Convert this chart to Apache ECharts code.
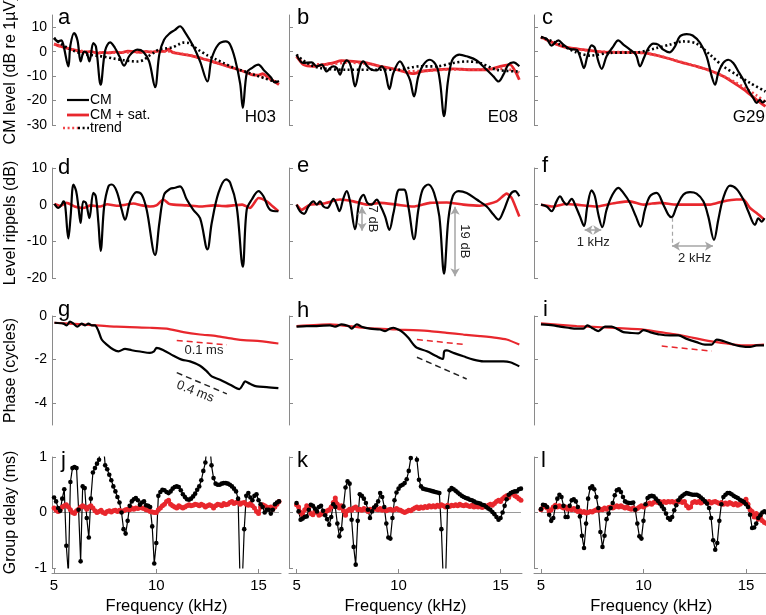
<!DOCTYPE html>
<html><head><meta charset="utf-8">
<script src="https://cdn.jsdelivr.net/npm/echarts@6/dist/echarts.min.js"></script>
<style>html,body{margin:0;padding:0;background:#fff}#c{width:766px;height:615px}</style>
</head><body><div id="c"></div>
<script>
// ---------- Row 1: CM level (dB re 1uV) ----------
const aCM = [[5.0,5.6],[5.2,4.2],[5.35,4.6],[5.45,3.0],[5.7,-6.0],[5.8,2.6],[5.98,7.6],[6.15,4.5],[6.3,-4.0],[6.47,0.0],[6.6,-0.5],[6.73,-4.0],[6.92,3.5],[7.05,2.0],[7.28,-13.5],[7.5,0.5],[7.74,3.8],[7.98,1.5],[8.2,-2],[8.42,-5.7],[8.7,-1.5],[9.07,0.8],[9.36,0.0],[9.65,-4],[9.94,-14.5],[10.15,-1.0],[10.38,4.9],[10.67,7.6],[10.9,8.8],[11.16,10.4],[11.4,8.0],[11.81,2.2],[12.14,-4],[12.5,-12.2],[12.7,-3],[13.03,2.9],[13.4,4.2],[13.6,3.0],[13.85,-3],[14.1,-13],[14.23,-23],[14.43,-8.5],[14.67,-6.7],[14.99,-5.3],[15.25,-7.5],[15.6,-10.5],[15.8,-12.6],[16.0,-12.0]];
const aSat = [[5.0,3.2],[5.3,2.2],[5.6,1.5],[5.9,0.8],[6.2,0.3],[6.5,-0.2],[6.8,0.1],[7.1,-0.6],[7.4,-0.3],[7.7,-0.5],[8.0,-0.1],[8.3,-0.4],[8.6,0.2],[8.9,0.0],[9.2,-0.3],[9.5,0.1],[9.8,-0.2],[10.1,0.2],[10.4,0.1],[10.6,1.0],[10.8,-0.3],[11.1,-0.8],[11.4,-1.2],[11.7,-1.6],[12.0,-2.3],[12.3,-3.0],[12.6,-3.6],[12.9,-4.5],[13.2,-5.2],[13.5,-6.0],[13.8,-6.8],[14.1,-7.6],[14.4,-8.5],[14.7,-9.5],[15.0,-9.6],[15.2,-9.0],[15.5,-10.8],[15.8,-12.3],[16.0,-13.5]];
const aTrend = [[5.0,5.6],[5.3,3.4],[5.65,1.6],[6.0,0.2],[6.5,-1.0],[7.0,-1.6],[7.4,-2.0],[7.9,-2.8],[8.4,-3.5],[8.8,-3.9],[9.1,-4.0],[9.4,-3.3],[9.6,-2.0],[9.85,-0.6],[10.1,0.8],[10.5,1.4],[10.8,1.8],[11.1,3.0],[11.3,3.7],[11.6,3.5],[11.85,2.0],[12.1,0.5],[12.5,-1.5],[12.9,-3.1],[13.3,-4.7],[13.7,-6.3],[14.1,-7.5],[14.5,-8.6],[14.9,-9.8],[15.3,-10.9],[15.7,-12.0],[16.0,-12.7]];
const aSatTrend = [[5.0,3.0],[5.5,1.8],[6.0,0.8],[6.5,0.1],[7.0,-0.3],[8.0,-0.4],[9.0,-0.2],[10.0,0.0],[10.5,0.2],[11.0,-0.5],[11.5,-1.3],[12.0,-2.2],[12.5,-3.4],[13.0,-4.7],[13.5,-6.0],[14.0,-7.3],[14.5,-8.6],[15.0,-9.8],[15.5,-11.2],[16.0,-12.8]];

const bCM = [[5.0,-1.2],[5.33,-4.6],[5.74,-4.4],[5.99,-6.0],[6.23,-5.3],[6.48,-8.1],[6.64,-6.7],[6.81,-6.0],[6.97,-6.7],[7.13,-9.4],[7.3,-5.3],[7.46,-3.6],[7.66,-6.0],[7.87,-14.2],[8.11,-6.0],[8.28,-4.0],[8.47,-6.0],[8.68,-7.4],[8.93,-7.7],[9.17,-6.0],[9.34,-8.1],[9.55,-15.3],[9.75,-8.7],[10.07,-4.0],[10.32,-7.4],[10.56,-11.5],[10.76,-18.3],[10.97,-10.1],[11.22,-5.3],[11.54,-3.3],[11.87,-6.0],[12.04,-12.8],[12.23,-26.4],[12.41,-12.8],[12.56,-5.3],[12.69,-2.6],[12.98,-1.2],[13.34,-1.9],[13.83,-3.6],[14.32,-7.4],[14.65,-10.1],[14.9,-12.2],[15.14,-9.4],[15.38,-5.3],[15.63,-4.4],[15.92,-6.0]];
const bSat = [[5.0,-1.9],[5.33,-5.3],[5.83,-6.0],[6.32,-5.3],[6.8,-4.6],[7.2,-3.7],[7.79,-4.0],[8.44,-4.6],[9.09,-6.0],[9.5,-6.6],[9.91,-7.4],[10.3,-8.3],[10.72,-9.0],[11.21,-8.0],[11.87,-7.4],[12.69,-7.0],[13.5,-7.4],[14.32,-7.4],[14.98,-6.0],[15.47,-5.3],[15.72,-8.0],[15.92,-11.5]];
const bTrend = [[5.0,-1.2],[5.5,-4.6],[6.15,-6.7],[7.46,-7.4],[8.77,-7.4],[9.91,-7.4],[11.05,-6.0],[11.87,-6.0],[12.69,-4.6],[13.34,-4.0],[13.99,-4.6],[14.81,-7.4],[15.92,-8.1]];
const bSatTrend = [[5.0,-2.0],[5.5,-5.0],[6.5,-5.2],[7.5,-4.5],[8.5,-5.0],[9.5,-6.8],[10.5,-8.0],[11.5,-7.8],[12.5,-7.3],[13.5,-7.3],[14.5,-7.2],[15.2,-7.0],[15.92,-8.5]];

const cCM = [[5.0,6.0],[5.28,5.2],[5.52,2.5],[5.85,4.6],[6.09,2.9],[6.41,1.1],[6.74,0.8],[6.9,-1.9],[7.1,-6.7],[7.26,-1.9],[7.47,2.6],[7.63,1.5],[7.8,-4.0],[7.96,-7.0],[8.2,-1.9],[8.53,2.2],[8.77,4.6],[9.02,2.9],[9.34,0.8],[9.63,-1.2],[9.83,-6.0],[10.02,-2.6],[10.24,1.5],[10.48,3.3],[10.72,2.9],[10.97,0.8],[11.26,-0.3],[11.54,2.2],[11.78,6.3],[12.11,7.2],[12.4,6.6],[12.76,3.6],[13.08,-1.9],[13.33,-10.1],[13.49,-13.5],[13.65,-8.7],[13.89,-4.6],[14.14,-3.3],[14.38,-4.6],[14.63,-8.1],[14.87,-11.5],[15.11,-15.6],[15.36,-19.0],[15.52,-21.0],[15.68,-19.7],[15.81,-20.8],[15.95,-20.0]];
const cSat = [[5.0,6.0],[5.44,4.2],[5.93,2.5],[6.41,1.5],[7.07,0.8],[7.72,0.1],[8.37,-0.3],[9.18,-0.3],[9.99,-0.5],[10.48,-1.2],[11.13,-2.6],[11.94,-4.6],[12.59,-6.0],[13.24,-7.7],[13.89,-10.1],[14.54,-13.5],[15.03,-16.3],[15.52,-19.7],[15.95,-22.4]];
const cTrend = [[5.0,6.0],[5.93,2.9],[6.74,-0.3],[7.39,-1.6],[8.37,-0.5],[9.67,-0.3],[10.64,1.5],[11.29,2.9],[11.94,4.2],[12.59,3.3],[13.24,-1.2],[13.89,-6.0],[14.54,-9.4],[15.2,-12.8],[15.95,-16.3]];
const cSatTrend = [[5.0,5.8],[5.5,4.0],[6.0,2.4],[6.5,1.3],[7.0,0.7],[8.0,0.0],[9.0,-0.2],[10.0,-0.6],[10.5,-1.2],[11.0,-2.2],[11.5,-3.4],[12.0,-4.6],[12.5,-5.8],[13.0,-7.1],[13.5,-8.6],[14.0,-10.4],[14.5,-12.6],[15.0,-15.0],[15.5,-17.8],[15.95,-20.5]];

// ---------- Row 2: Level ripples (dB) ----------
const dCM = [[5.02,0.2],[5.21,-0.9],[5.37,0],[5.46,0.9],[5.54,0],[5.7,-9.2],[5.81,-3.2],[5.95,5.5],[6.08,3.7],[6.19,-0.5],[6.3,-5.0],[6.43,0.9],[6.56,0.5],[6.73,-3.7],[6.92,3.2],[7.04,2.3],[7.17,-5.0],[7.28,-12.6],[7.45,-0.5],[7.66,5.0],[7.82,5.5],[8.06,3.7],[8.31,-1.4],[8.47,-4.1],[8.72,0.9],[9.04,3.4],[9.29,2.7],[9.53,-1.4],[9.94,-13.7],[10.15,-5.0],[10.38,2.7],[10.67,4.3],[10.92,4.6],[11.16,5.0],[11.49,1.4],[11.81,-1.4],[12.14,-3.7],[12.5,-12.2],[12.71,-5.0],[13.04,3.2],[13.41,6.9],[13.61,6.0],[13.93,-0.5],[14.23,-16.9],[14.42,-1.4],[14.67,1.4],[15.0,3.7],[15.24,2.3],[15.57,-1.4],[15.97,-1.8]];
const dSat = [[5.02,0.2],[5.3,-0.3],[5.62,0.5],[6.0,-0.5],[6.43,-0.9],[6.8,-0.2],[7.25,-0.5],[7.6,0.1],[8.06,-0.3],[8.5,0.0],[8.88,0.3],[9.3,-0.2],[9.69,-0.5],[10.0,-0.2],[10.35,1.4],[10.6,0.3],[10.84,0.0],[11.5,-0.2],[12.14,-0.5],[12.8,-0.2],[13.4,-0.4],[13.77,-0.2],[14.2,0.0],[14.58,-0.9],[15.0,1.8],[15.4,0.9],[15.7,-0.5],[15.97,-1.8]];
const eCM = [[5.0,0],[5.17,-1.8],[5.37,-2.5],[5.58,-0.5],[5.83,0.9],[5.99,0],[6.15,0.9],[6.32,-0.5],[6.51,-0.9],[6.81,1.6],[6.97,0],[7.1,-1.8],[7.3,1.8],[7.46,3.7],[7.62,0.9],[7.87,-6.7],[8.08,0.9],[8.28,2.7],[8.47,0.5],[8.68,0],[8.93,1.4],[9.09,0],[9.34,-3.2],[9.55,-6.9],[9.75,-2.3],[10.04,4.1],[10.27,4.1],[10.48,-0.5],[10.76,-9.4],[10.97,-1.4],[11.18,4.1],[11.46,5.5],[11.74,3.2],[12.0,-3.2],[12.23,-18.8],[12.44,-4.1],[12.66,2.3],[12.94,3.7],[13.34,3.2],[13.83,1.4],[14.32,-0.5],[14.65,-2.7],[14.9,-4.1],[15.14,-1.8],[15.47,2.7],[15.71,3.7],[15.92,2.3]];
const eSat = [[5.0,0],[5.25,-1.4],[5.66,0],[6.32,0.3],[7.13,1.4],[7.79,0.9],[8.44,0],[9.09,0.5],[9.91,0],[10.72,-0.5],[11.54,0.5],[12.36,0.6],[13.18,0],[13.99,-0.3],[14.81,0.9],[15.3,3.0],[15.55,1.8],[15.79,-1.4],[15.92,-3.2]];
const fCM = [[5.0,0],[5.28,-0.5],[5.52,-1.8],[5.76,0.9],[5.93,2.3],[6.09,0.9],[6.25,0],[6.5,1.6],[6.66,0],[6.9,-3.2],[7.1,-5.8],[7.26,-0.5],[7.47,3.9],[7.63,2.3],[7.8,-2.7],[7.99,-6.1],[8.2,-1.4],[8.45,2.3],[8.77,4.6],[9.02,3.2],[9.34,0.5],[9.63,-3.2],[9.86,-6.0],[10.07,-1.4],[10.32,2.3],[10.64,3.2],[10.97,0],[11.21,-2.7],[11.37,-3.4],[11.62,-0.5],[11.94,2.7],[12.27,3.4],[12.59,3.0],[12.92,0.9],[13.16,-3.2],[13.44,-9.6],[13.65,-4.1],[13.89,1.8],[14.22,5.2],[14.54,4.3],[14.87,1.4],[15.11,-1.8],[15.44,-5.5],[15.6,-3.7],[15.76,-4.6],[15.9,-3.7]];
const fSat = [[5.0,0],[5.6,-0.5],[6.2,0.2],[6.74,0],[7.2,-0.3],[7.72,-0.5],[8.2,0],[8.69,0.5],[9.34,0.9],[9.99,0],[10.4,0.3],[10.8,0.5],[11.62,0],[12.43,0],[13.24,0],[13.89,0.9],[14.54,1.4],[14.87,1.4],[15.2,-0.9],[15.52,-2.3],[15.9,-4.1]];

// ---------- Row 3: Phase (cycles) ----------
const gCM = [[5.02,-0.31],[5.46,-0.35],[5.62,-0.43],[5.78,-0.26],[5.95,-0.35],[6.14,-0.49],[6.35,-0.35],[6.52,-0.43],[6.68,-0.35],[6.84,-0.43],[7.0,-0.43],[7.17,-0.69],[7.33,-1.08],[7.58,-1.31],[7.9,-1.54],[8.15,-1.62],[8.47,-1.51],[8.8,-1.57],[9.21,-1.63],[9.69,-1.69],[9.89,-1.62],[10.02,-1.46],[10.35,-1.57],[10.84,-1.82],[11.24,-2.0],[11.65,-2.08],[12.14,-2.28],[12.47,-2.54],[12.71,-2.77],[13.12,-2.92],[13.61,-3.15],[14.06,-3.35],[14.23,-3.15],[14.34,-3.0],[14.58,-3.11],[14.91,-3.23],[15.4,-3.26],[15.97,-3.31]];
const gSat = [[5.02,-0.31],[6.43,-0.38],[8.06,-0.49],[9.69,-0.54],[10.51,-0.58],[11.32,-0.74],[12.14,-0.85],[12.95,-0.92],[13.77,-1.05],[14.42,-1.12],[15.07,-1.15],[15.97,-1.26]];
const hCM = [[5.0,-0.49],[5.5,-0.46],[5.99,-0.46],[6.64,-0.43],[6.89,-0.49],[7.21,-0.38],[7.54,-0.46],[7.7,-0.58],[7.95,-0.38],[8.19,-0.49],[8.6,-0.58],[9.09,-0.62],[9.34,-0.69],[9.58,-0.58],[9.75,-0.54],[9.99,-0.62],[10.24,-0.77],[10.48,-1.0],[10.73,-1.31],[10.9,-1.46],[11.39,-1.62],[11.87,-1.85],[12.17,-1.97],[12.24,-1.62],[12.37,-1.58],[12.69,-1.69],[13.18,-1.85],[13.67,-2.0],[14.16,-2.08],[14.65,-2.08],[15.14,-2.08],[15.47,-2.12],[15.92,-2.31]];
const hSat = [[5.0,-0.46],[6.64,-0.38],[8.28,-0.54],[9.91,-0.62],[10.73,-0.65],[11.54,-0.69],[12.36,-0.77],[13.18,-0.85],[13.99,-0.92],[14.81,-1.0],[15.3,-1.08],[15.92,-1.31]];
const iCM = [[5.0,-0.38],[5.6,-0.43],[5.93,-0.49],[6.33,-0.54],[6.74,-0.58],[7.07,-0.58],[7.26,-0.43],[7.55,-0.58],[7.8,-0.69],[8.12,-0.49],[8.45,-0.49],[8.69,-0.58],[9.02,-0.74],[9.34,-0.77],[9.75,-0.8],[10.0,-0.65],[10.32,-0.74],[10.8,-0.85],[11.29,-0.89],[11.7,-0.89],[12.11,-1.05],[12.59,-1.2],[13.0,-1.31],[13.33,-1.31],[13.57,-1.08],[13.89,-1.15],[14.38,-1.31],[14.71,-1.38],[15.2,-1.42],[15.52,-1.35],[15.88,-1.35]];
const iSat = [[5.0,-0.34],[6.74,-0.46],[8.37,-0.54],[9.99,-0.62],[10.8,-0.74],[11.62,-0.85],[12.43,-1.0],[13.24,-1.15],[14.06,-1.26],[14.87,-1.35],[15.88,-1.31]];
// reference slopes (0.1 ms red, 0.4 ms black)
const gSlopeRed = [[11.0,-1.12],[13.45,-1.32]], gSlopeBlack = [[11.0,-2.6],[13.45,-3.57]];
const hSlopeRed = [[10.9,-1.08],[13.26,-1.31]], hSlopeBlack = [[10.9,-1.89],[13.34,-2.89]];
const iSlopeRed = [[10.89,-1.38],[13.33,-1.61]];

// ---------- Row 4: Group delay (ms), sampled every 0.1 kHz ----------
const gdFreq = [5.0,5.1,5.2,5.3,5.4,5.5,5.6,5.7,5.8,5.9,6.0,6.1,6.2,6.3,6.4,6.5,6.6,6.7,6.8,6.9,7.0,7.1,7.2,7.3,7.4,7.5,7.6,7.7,7.8,7.9,8.0,8.1,8.2,8.3,8.4,8.5,8.6,8.7,8.8,8.9,9.0,9.1,9.2,9.3,9.4,9.5,9.6,9.7,9.8,9.9,10.0,10.1,10.2,10.3,10.4,10.5,10.6,10.7,10.8,10.9,11.0,11.1,11.2,11.3,11.4,11.5,11.6,11.7,11.8,11.9,12.0,12.1,12.2,12.3,12.4,12.5,12.6,12.7,12.8,12.9,13.0,13.1,13.2,13.3,13.4,13.5,13.6,13.7,13.8,13.9,14.0,14.1,14.2,14.3,14.4,14.5,14.6,14.7,14.8,14.9,15.0,15.1,15.2,15.3,15.4,15.5,15.6,15.7,15.8,15.9,16.0];
const jCM = [0.27,0.2,0.08,0.03,0.25,0.42,-0.6,-1.1,0.55,0.8, 0.82,0.8,0.05,-0.88,0.47,0.44,-0.1,-0.45,0.25,0.72, 0.8,0.88,0.95,1.3,1.3,0.85,0.78,0.68,0.58,0.47, 0.38,0.28,0.18,0.0,-0.3,-0.38,-0.15,0.12,0.2,0.24, 0.26,0.22,0.14,0.18,0.2,0.13,0.12,0.1,-0.25,-0.92, -0.55,0.3,0.37,0.41,0.4,0.37,0.35,0.38,0.43,0.46, 0.47,0.46,0.4,0.33,0.28,0.24,0.23,0.25,0.29,0.34, 0.41,0.47,0.58,0.75,0.9,1.3,1.3,0.85,0.62,0.52, 0.5,0.5,0.52,0.53,0.53,0.52,0.5,0.47,0.43,0.38, 0.25,-1.3,-1.3,-0.3,0.3,0.35,0.27,0.22,0.3,0.33, 0.22,0.15,0.1,0.0,0.05,0.05,-0.02,0.05,0.15,0.18, 0.2];
const jSat = [0.08,0.04,0.02,0.05,0.1,0.12,0.14,0.1,0.05,0.0, -0.02,0.03,0.06,0.1,0.12,0.1,0.06,0.1,0.12,0.08, 0.03,0.0,0.02,0.04,0.0,-0.02,0.02,0.03,0.01,0.03, 0.04,0.02,0.04,0.02,0.03,0.05,0.06,0.05,0.08,0.06, 0.08,0.07,0.1,0.08,0.07,0.05,0.04,0.02,0.01,0.0, 0.0,0.05,0.08,0.12,0.15,0.2,0.22,0.15,0.12,0.1, 0.08,0.12,0.1,0.08,0.1,0.12,0.14,0.12,0.13,0.15, 0.14,0.12,0.15,0.13,0.1,0.12,0.14,0.12,0.08,0.12, 0.15,0.14,0.12,0.16,0.14,0.15,0.18,0.2,0.16,0.18, 0.2,0.15,0.17,0.18,0.15,0.13,0.16,0.12,0.08,0.02, -0.02,0.1,0.14,0.12,0.1,0.08,0.1,0.06,0.1,0.15, 0.2];
const kCM = [0.17,0.02,-0.13,-0.11,-0.08,-0.07,0.05,0.14,0.12,0.07, 0.02,0.1,0.12,0.03,-0.05,-0.12,-0.22,-0.08,0.15,0.1, -0.2,-0.43,-0.3,0.11,0.45,0.56,0.52,-0.13,-0.62,-0.94, -0.15,0.33,0.3,0.25,0.17,0.05,-0.1,0.02,0.09,0.13, 0.2,0.35,0.28,0.1,-0.2,-0.45,-0.47,-0.1,0.22,0.36, 0.43,0.48,0.5,0.53,0.6,0.75,0.98,1.3,1.3,0.95, 0.59,0.47,0.43,0.42,0.41,0.4,0.39,0.38,0.37,0.36, 0.35,-0.3,-1.3,-1.3,0.1,0.4,0.44,0.42,0.39,0.36, 0.33,0.3,0.28,0.26,0.25,0.23,0.22,0.2,0.18,0.17, 0.16,0.14,0.13,0.1,0.07,0.05,0.01,-0.03,-0.08,-0.13, -0.1,0.0,0.12,0.24,0.32,0.35,0.37,0.38,0.38,0.42, 0.43];
const kSat = [0.14,0.1,0.0,-0.05,0.05,0.12,0.08,-0.02,-0.04,0.02, 0.0,-0.05,-0.03,0.02,-0.02,0.03,0.05,0.1,0.18,0.26, 0.15,0.08,0.12,0.03,-0.05,0.03,0.06,0.04,0.08,0.1, 0.05,0.06,0.04,0.07,0.05,0.02,0.06,0.04,0.08,0.06, 0.05,0.07,0.04,0.06,0.03,0.05,0.06,0.04,0.05,0.07, 0.05,0.04,0.02,0.0,0.02,0.04,0.03,0.06,0.08,0.1, 0.07,0.1,0.08,0.11,0.09,0.12,0.1,0.12,0.1,0.13, 0.11,0.14,0.12,0.1,0.13,0.11,0.13,0.12,0.14,0.12, 0.15,0.13,0.12,0.14,0.12,0.11,0.13,0.1,0.12,0.1, 0.11,0.09,0.12,0.1,0.13,0.15,0.13,0.16,0.2,0.22, 0.2,0.25,0.28,0.3,0.27,0.33,0.36,0.3,0.28,0.25, 0.22];
const lCM = [0.06,0.14,0.13,0.1,-0.04,-0.15,-0.1,0.1,0.25,0.32, 0.28,0.12,-0.08,-0.08,0.12,0.22,0.24,0.2,0.1,-0.07, -0.42,-0.64,-0.2,0.25,0.44,0.47,0.42,0.28,0.08,-0.35, -0.62,-0.42,-0.12,-0.02,0.08,0.17,0.31,0.4,0.42,0.37, 0.28,0.2,0.18,0.17,0.17,0.18,0.05,-0.2,-0.43,-0.47, -0.15,0.15,0.26,0.29,0.3,0.29,0.25,0.21,0.16,0.11, 0.06,-0.02,-0.1,-0.13,-0.08,0.04,0.13,0.22,0.27,0.3, 0.33,0.35,0.34,0.33,0.32,0.32,0.32,0.3,0.27,0.24, 0.2,0.16,0.08,-0.1,-0.5,-0.67,-0.55,-0.15,0.15,0.28, 0.32,0.35,0.35,0.33,0.3,0.28,0.26,0.23,0.21,0.19, 0.15,0.1,-0.04,-0.28,-0.27,-0.2,-0.1,-0.05,0.0,0.02, 0.0];
const lSat = [0.05,0.1,0.12,0.08,0.02,0.05,0.1,0.13,0.1,0.12, 0.1,0.08,0.1,0.06,0.08,0.05,0.07,0.04,0.02,0.03, 0.0,0.02,-0.01,0.0,0.02,0.01,0.03,0.05,0.04,0.06, 0.05,0.08,0.06,0.09,0.1,0.08,0.1,0.12,0.1,0.12, 0.1,0.08,0.1,0.07,0.06,0.08,0.05,0.07,0.1,0.12, 0.1,0.13,0.15,0.17,0.15,0.18,0.2,0.18,0.2,0.18, 0.2,0.18,0.2,0.19,0.2,0.18,0.2,0.19,0.21,0.18, 0.2,0.12,0.08,0.1,0.18,0.2,0.18,0.2,0.17,0.19, 0.2,0.18,0.2,0.17,0.19,0.2,0.18,0.16,0.18,0.15, 0.17,0.15,0.18,0.16,0.14,0.16,0.13,0.15,0.17,0.2, 0.24,0.15,0.05,0.02,-0.08,-0.02,-0.12,-0.05,-0.15,-0.18, -0.2];
const zeroLine = [[5.0,0],[16.0,0]];

// ---------- text ----------
const panelLetters = ['a','b','c','d','e','f','g','h','i','j','k','l'];
const subjects = ['H03','E08','G29'];
const rowNames = ['CM level (dB re 1µV)','Level rippels (dB)','Phase (cycles)','Group delay (ms)'];
const rowTicks = [[10,0,-10,-20,-30],[10,0,-10,-20],[0,-2,-4],[1,0,-1]];
const freqTicks = [5,10,15];
const legendNames = ['CM','CM + sat.','trend'];

// ---------- layout ----------
const FONT = 'Liberation Sans, Arial, sans-serif';
const AX = '#8a8a8a', RED = '#e8272d', BLK = '#000';
const colLeft = [52, 289, 534], colMin = [4.9, 4.63, 4.66], colMax = [16.1, 16.05, 16.1], colPx = [20.45, 20.4, 20.5];
const rowTop = [15, 168, 316, 457], rowH = [110, 110, 109, 111];
const rowMin = [-30, -20, -5, -1], rowMax = [15, 10, 0, 1], rowInterval = [5, 5, 1, 0.5];

const chart = echarts.init(document.getElementById('c'));
const grid = [], xAxis = [], yAxis = [];
for (let r = 0; r < 4; r++) for (let c = 0; c < 3; c++) {
  const gi = r * 3 + c;
  grid.push({left: colLeft[c], top: rowTop[r], width: (colMax[c] - colMin[c]) * colPx[c], height: rowH[r],
    containLabel: false, outerBoundsMode: 'none'});
  const bottomRow = r === 3;
  xAxis.push({type: 'value', gridIndex: gi, min: colMin[c], max: colMax[c], show: bottomRow,
    offset: 5,
    axisLine: {show: true, onZero: false, lineStyle: {color: AX, width: 1}},
    axisTick: {show: true, inside: true, length: 4, customValues: freqTicks, lineStyle: {color: AX}},
    axisLabel: {show: true, customValues: freqTicks, fontSize: 15, fontFamily: FONT, color: '#000', margin: 5},
    splitLine: {show: false},
    name: bottomRow ? 'Frequency (kHz)' : '', nameLocation: 'middle', nameGap: 25,
    nameTextStyle: {fontSize: 16.5, fontFamily: FONT, color: '#000'}});
  yAxis.push({type: 'value', gridIndex: gi, min: rowMin[r], max: rowMax[r], interval: rowInterval[r],
    axisLine: {show: true, lineStyle: {color: AX, width: 1}},
    axisTick: {show: true, inside: true, length: 4, customValues: rowTicks[r], lineStyle: {color: AX}},
    axisLabel: {show: c === 0, customValues: rowTicks[r], fontSize: 14, fontFamily: FONT, color: '#000', margin: 5},
    splitLine: {show: false},
    name: c === 0 ? rowNames[r] : '', nameLocation: 'middle', nameGap: 33,
    nameTextStyle: {fontSize: 16, fontFamily: FONT, color: '#000'}});
}

function ln(gi, data, color, width, extra) {
  return Object.assign({type: 'line', xAxisIndex: gi, yAxisIndex: gi, data: data, symbol: 'none', showSymbol: false,
    lineStyle: {color: color, width: width}, itemStyle: {color: color}, animation: false, silent: true, clip: true}, extra || {});
}
const dotted = (c) => ({lineStyle: {color: c, width: 2.6, type: [2, 2.6]}, smooth: 0.3});
const series = [];
// row 1
[[aCM, aSat, aTrend, aSatTrend], [bCM, bSat, bTrend, bSatTrend], [cCM, cSat, cTrend, cSatTrend]].forEach((p, c) => {
  series.push(ln(c, p[1], RED, 2.8, {smooth: 0.2}));
  series.push(ln(c, p[3], RED, 2.6, dotted('#f0464a')));
  series.push(ln(c, p[2], BLK, 2.6, dotted(BLK)));
  series.push(ln(c, p[0], BLK, 2.2, {smooth: 0.35}));
});
// row 2
[[dCM, dSat], [eCM, eSat], [fCM, fSat]].forEach((p, c) => {
  series.push(ln(3 + c, p[1], RED, 2.6, {smooth: 0.2}));
  series.push(ln(3 + c, p[0], BLK, 2.2, {smooth: 0.35}));
});
// annotations row 2 (arrows in data coordinates)
const arrowStyle = {color: '#a6a6a6', width: 1.5, type: 'solid'};
series.push(ln(4, [], AX, 1, {markLine: {silent: true, animation: false, symbol: ['arrow', 'arrow'], symbolSize: [7, 8], label: {show: false},
  lineStyle: arrowStyle, data: [[{coord: [8.21, -0.6]}, {coord: [8.21, -7.1]}], [{coord: [12.77, -0.6]}, {coord: [12.77, -19.5]}]]}}));
series.push(ln(5, [], AX, 1, {markLine: {silent: true, animation: false, symbol: ['arrow', 'arrow'], symbolSize: [7, 8], label: {show: false},
  lineStyle: arrowStyle, data: [[{coord: [7.13, -6.9]}, {coord: [7.94, -6.9]}], [{coord: [11.39, -11.3]}, {coord: [13.39, -11.3]}]]}}));
series.push(ln(5, [], AX, 1, {markLine: {silent: true, animation: false, symbol: ['none', 'none'], label: {show: false},
  lineStyle: {color: '#a6a6a6', width: 1.2, type: [4, 3]}, data: [[{coord: [11.39, -3.6]}, {coord: [11.39, -11.3]}]]}}));
// row 3
[[gCM, gSat], [hCM, hSat], [iCM, iSat]].forEach((p, c) => {
  series.push(ln(6 + c, p[1], RED, 2.2, {smooth: 0.2}));
  series.push(ln(6 + c, p[0], BLK, 2.2, {smooth: 0.3}));
});
const dash = (c) => ({lineStyle: {color: c, width: 1.5, type: [6, 4]}});
series.push(ln(6, gSlopeRed, RED, 1.5, dash(RED)));
series.push(ln(6, gSlopeBlack, BLK, 1.5, dash('#222')));
series.push(ln(7, hSlopeRed, RED, 1.5, dash(RED)));
series.push(ln(7, hSlopeBlack, BLK, 1.5, dash('#222')));
series.push(ln(8, iSlopeRed, RED, 1.5, dash(RED)));
// row 4
[[jCM, jSat], [kCM, kSat], [lCM, lSat]].forEach((p, c) => {
  const gi = 9 + c;
  series.push(ln(gi, zeroLine, '#9a9a9a', 1));
  series.push(ln(gi, gdFreq.map((f, i) => [f, p[1][i]]), RED, 3, {symbol: 'circle', symbolSize: 5, showSymbol: true, showAllSymbol: true}));
  series.push(ln(gi, gdFreq.map((f, i) => [f, p[0][i]]), BLK, 1.2, {symbol: 'circle', symbolSize: 4.6, showSymbol: true, showAllSymbol: true}));
});

chart.setOption({animation: false, backgroundColor: '#fff', grid, xAxis, yAxis, series});

// ---------- graphic text ----------
const P = (gi, x, y) => chart.convertToPixel({gridIndex: gi}, [x, y]);
const txt = (x, y, text, size, extra) => Object.assign({type: 'text', silent: true, x: x, y: y,
  style: Object.assign({text: text, font: size + 'px ' + FONT, fill: '#000', align: 'left', verticalAlign: 'bottom'}, (extra && extra.style) || {})},
  extra ? {rotation: extra.rotation || 0} : {});
const gr = [];
const letterPos = [[58, 29], [297, 29], [542, 29], [58, 179], [297, 177], [542, 177], [58, 321], [297, 322], [543, 321], [61, 472], [297, 472], [541, 472]];
panelLetters.forEach((l, i) => gr.push(txt(letterPos[i][0], letterPos[i][1], l, 22)));
const subjPos = [[276, 126], [518, 126], [765, 126]];
subjects.forEach((s, i) => gr.push(txt(subjPos[i][0], subjPos[i][1], s, 17, {style: {align: 'right'}})));
// legend (panel a)
gr.push({type: 'line', silent: true, shape: {x1: 67, y1: 100, x2: 89, y2: 100}, style: {stroke: BLK, lineWidth: 2.2}});
gr.push({type: 'line', silent: true, shape: {x1: 67, y1: 115, x2: 89, y2: 115}, style: {stroke: RED, lineWidth: 2.8}});
gr.push({type: 'line', silent: true, shape: {x1: 63, y1: 128, x2: 78, y2: 128}, style: {stroke: '#f0464a', lineWidth: 2.6, lineDash: [2, 2.6]}});
gr.push({type: 'line', silent: true, shape: {x1: 78, y1: 128, x2: 89, y2: 128}, style: {stroke: BLK, lineWidth: 2.6, lineDash: [2, 2.6]}});
[100, 115, 128].forEach((y, i) => gr.push(txt(90, y, legendNames[i], 14, {style: {verticalAlign: 'middle'}})));
// annotation texts (data coordinates)
const annot = [
  [4, 8.72, -3.9, '7 dB', -Math.PI / 2],
  [4, 13.25, -10.0, '19 dB', -Math.PI / 2],
  [5, 7.55, -10.4, '1 kHz', 0],
  [5, 12.5, -14.6, '2 kHz', 0],
  [6, 12.33, -1.58, '0.1 ms', 0],
  [6, 11.9, -3.47, '0.4 ms', -0.38]
];
annot.forEach(a => {
  const p = P(a[0], a[1], a[2]);
  gr.push({type: 'text', silent: true, x: p[0], y: p[1], rotation: a[4],
    style: {text: a[3], font: '13px ' + FONT, fill: '#222', align: 'center', verticalAlign: 'middle'}});
});
chart.setOption({graphic: gr});
</script>
</body></html>
